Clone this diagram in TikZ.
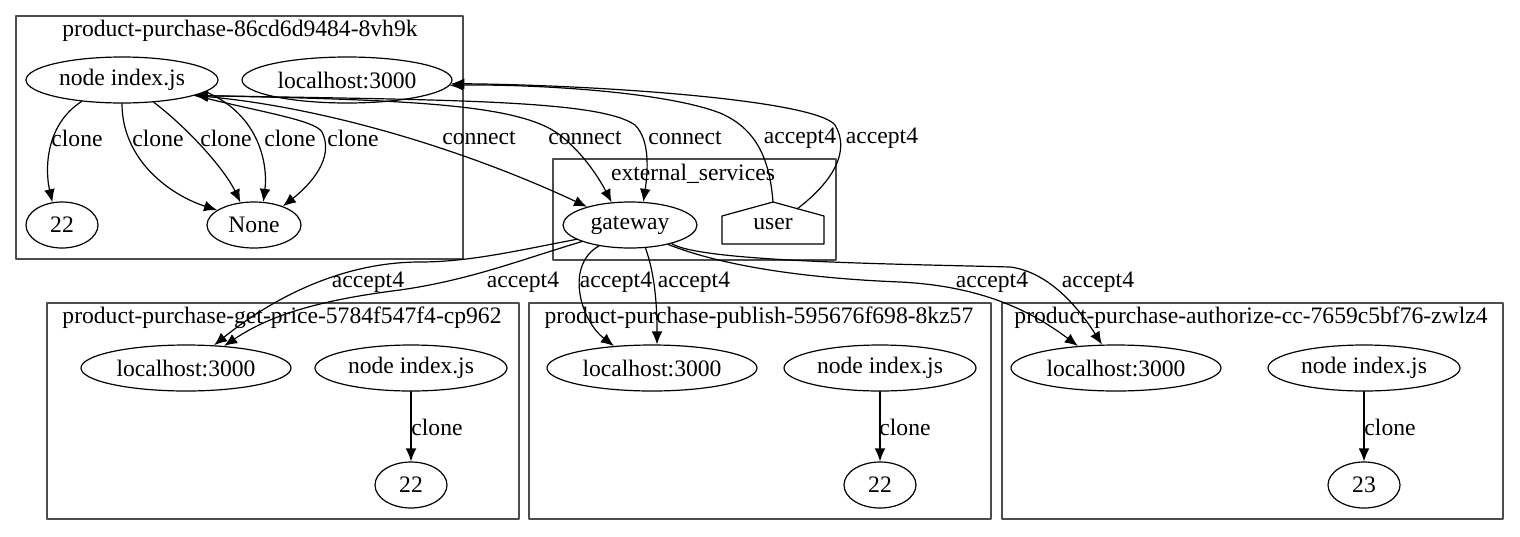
\documentclass[tikz,border=0pt]{standalone}
\usepackage{fontspec}
\setmainfont{Liberation Serif}
\usetikzlibrary{shapes,arrows.meta,calc}
\tikzstyle{every node}=[font=\fontsize{11.8}{14}\selectfont]
\tikzstyle{every path}=[line width=0.6pt,line cap=round,line join=round]
\tikzstyle{proc}=[draw,ellipse,inner sep=0pt,minimum height=23pt]
\tikzstyle{grp}=[draw=black!70,line width=0.9pt]
\tikzstyle{call}=[-{Latex[length=6.5pt,width=5.4pt]}]
\tikzstyle{conn}=[{Latex[length=6.5pt,width=5.4pt]}-{Latex[length=6.5pt,width=5.4pt]}]
\tikzstyle{lbl}=[inner sep=1pt]

\begin{document}
\begin{tikzpicture}[x=0.5pt,y=-0.5pt]
\useasboundingbox (0,0) rectangle (1520,536);

% clusters
\draw [grp] (16,16) rectangle (463,259);
\node (t1) at (240,31) {product-purchase-86cd6d9484-8vh9k};
\draw [grp] (553,159) rectangle (836,260);
\node (t2) at (693,174) {external\_services};
\draw [grp] (47,303) rectangle (519,519);
\node (t3) at (282,318) {product-purchase-get-price-5784f547f4-cp962};
\draw [grp] (529,303) rectangle (991,519);
\node (t4) at (759,318) {product-purchase-publish-595676f698-8kz57};
\draw [grp] (1002,303) rectangle (1503,519);
\node (t5) at (1251,318) {product-purchase-authorize-cc-7659c5bf76-zwlz4};

% processes
\node [proc,minimum width=96pt] (ni1) at (122,80) {node index.js};
\node [proc,minimum width=105pt] (lh1) at (347,80) {localhost:3000};
\node [proc,minimum width=36pt] (p22a) at (62,225) {22};
\node [proc,minimum width=47pt] (none) at (254,225) {None};
\node [proc,minimum width=67pt] (gw) at (630,225) {gateway};
\node (user) at (773,224) {user};
\draw ($(user)+(-51,20)$) -- ($(user)+(51,20)$) -- ($(user)+(51,-8)$)
  -- ($(user)+(0,-22)$) coordinate (apex) -- ($(user)+(-51,-8)$) -- cycle;
\coordinate (roof) at ($(user)+(24,-15)$);

\node [proc,minimum width=105pt] (lh2) at (186,368) {localhost:3000};
\node [proc,minimum width=96pt] (ni2) at (411,368) {node index.js};
\node [proc,minimum width=36pt] (p22b) at (411,485) {22};
\node [proc,minimum width=105pt] (lh3) at (652,368) {localhost:3000};
\node [proc,minimum width=96pt] (ni3) at (880,368) {node index.js};
\node [proc,minimum width=36pt] (p22c) at (880,485) {22};
\node [proc,minimum width=105pt] (lh4) at (1116,368) {localhost:3000};
\node [proc,minimum width=96pt] (ni4) at (1364,368) {node index.js};
\node [proc,minimum width=36pt] (p23) at (1364,485) {23};

% clone
\draw [call] (ni1.208) .. controls (45,125) and (45,170) .. (p22a.113)
  node [lbl] at (77,138) {clone};
\draw [call] (ni1.270) .. controls (122,160) and (170,195) .. (none.158)
  node [lbl] at (158,138) {clone};
\draw [call] (ni1.-35) .. controls (190,130) and (225,170) .. (none.121)
  node [lbl] at (226,138) {clone};
\draw [call] (ni1.-8) .. controls (260,115) and (268,165) .. (none.68)
  node [lbl] at (290,138) {clone};
\draw [call] (ni1.-12) .. controls (260,112) and (315,120) .. (322,132)
  .. controls (335,158) and (310,185) .. (none.33)
  node [lbl] at (353,138) {clone};
\draw [call] (ni2) -- (p22b) node [lbl] at (437,427) {clone};
\draw [call] (ni3) -- (p22c) node [lbl] at (905,427) {clone};
\draw [call] (ni4) -- (p23) node [lbl] at (1390,427) {clone};

% connect
\draw [conn] (ni1.-12) .. controls (330,108) and (470,152) .. (gw.157)
  node [lbl] at (479,138) {connect};
\draw [conn] (ni1.-12) .. controls (420,100) and (520,105) .. (560,135)
  .. controls (585,155) and (600,180) .. (gw.129)
  node [lbl] at (585,138) {connect};
\draw [conn] (ni1.-12) .. controls (450,100) and (600,100) .. (635,125)
  .. controls (650,140) and (648,170) .. (gw.60)
  node [lbl] at (685,138) {connect};

% accept4
\draw [call] (apex) .. controls (770,165) and (760,130) .. (720,113)
  .. controls (660,90) and (520,84) .. (lh1.-3)
  node [lbl] at (800,138) {accept4};
\draw [call] (roof) .. controls (835,180) and (850,150) .. (835,125)
  .. controls (815,100) and (600,85) .. (lh1.-2)
  node [lbl] at (882,138) {accept4};
\draw [call] (gw.195) .. controls (520,250) and (470,262) .. (420,262)
  .. controls (340,262) and (270,300) .. (lh2.39)
  node [lbl] at (368,282) {accept4};
\draw [call] (gw.199) .. controls (520,260) and (470,280) .. (400,290)
  .. controls (320,300) and (270,315) .. (lh2.30)
  node [lbl] at (523,282) {accept4};
\draw [call] (gw.214) .. controls (565,265) and (580,320) .. (lh3.150)
  node [lbl] at (616,282) {accept4};
\draw [call] (gw.-56) .. controls (655,275) and (657,305) .. (lh3.78)
  node [lbl] at (694,282) {accept4};
\draw [call] (gw.-27) .. controls (720,265) and (800,278) .. (900,282)
  .. controls (980,286) and (1030,310) .. (lh4.150)
  node [lbl] at (992,282) {accept4};
\draw [call] (gw.-24) .. controls (700,262) and (900,264) .. (1010,267)
  .. controls (1050,272) and (1080,310) .. (lh4.121)
  node [lbl] at (1098,282) {accept4};
\end{tikzpicture}
\end{document}
